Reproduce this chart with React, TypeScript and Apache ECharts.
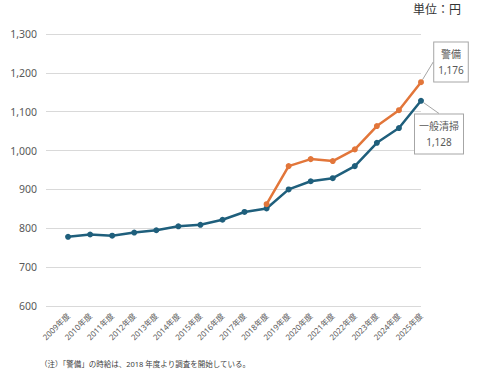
import React, { useEffect, useRef } from "react";
import * as echarts from "echarts";

const years = [
  "2009年度", "2010年度", "2011年度", "2012年度", "2013年度", "2014年度",
  "2015年度", "2016年度", "2017年度", "2018年度", "2019年度", "2020年度",
  "2021年度", "2022年度", "2023年度", "2024年度", "2025年度",
];
const cleaning = [778, 784, 781, 789, 795, 805, 809, 822, 842, 851, 900, 921, 929, 960, 1020, 1058, 1128];
const security = [null, null, null, null, null, null, null, null, null, 862, 960, 978, 973, 1003, 1063, 1104, 1176];
const cleaningName = "一般清掃";
const securityName = "警備";
const yTicks = { min: 600, max: 1300, interval: 100 };
const unitText = "単位：円";
const noteText = "（注）「警備」の時給は、2018 年度より調査を開始している。";

const FONT = "'Noto Sans', 'Noto Sans CJK JP', sans-serif";

function fmt(v: number) {
  return v.toLocaleString("en-US");
}

export default function App() {
  const ref = useRef<HTMLDivElement>(null);
  useEffect(() => {
    if (!ref.current) return;
    const chart = echarts.init(ref.current, null, { renderer: "svg" });
    const last = years.length - 1;
    const mkData = (arr: (number | null)[]) =>
      [null, ...arr].map((v, i) =>
        i === last + 1
          ? { value: v, label: { show: true } }
          : v === null ? "-" : v
      );
    const labelStyle = {
      show: false,
      formatter: (p: any) => `${p.seriesName}\n${fmt(p.value)}`,
      fontFamily: FONT,
      fontSize: 10,
      color: "#595959",
      backgroundColor: "#ffffff",
      borderColor: "#a6a6a6",
      borderWidth: 1,
      padding: [4, 4, 3, 4],
      lineHeight: 16,
      align: "center",
    };
    chart.setOption({
      animation: false,
      textStyle: { fontFamily: FONT },
      grid: { left: 46, right: 56, top: 34, bottom: 74, containLabel: false },
      graphic: [
        {
          type: "text",
          x: 413,
          y: 3,
          style: { text: unitText, fontSize: 12, fill: "#333333", fontFamily: FONT, verticalAlign: "top" },
        },
        {
          type: "text",
          x: 40,
          y: 364,
          style: { text: noteText, fontSize: 7.5, fill: "#404040", fontFamily: FONT, verticalAlign: "middle" },
        },
      ],
      xAxis: {
        type: "category",
        boundaryGap: false,
        data: ["", ...years],
        axisLine: { show: false },
        axisTick: { show: false },
        axisLabel: {
          interval: 0,
          rotate: 45,
          fontSize: 8,
          color: "#595959",
          margin: 8,
          fontFamily: FONT,
        },
        splitLine: { show: false },
      },
      yAxis: {
        type: "value",
        min: yTicks.min,
        max: yTicks.max,
        interval: yTicks.interval,
        axisLine: { show: false },
        axisTick: { show: false },
        axisLabel: {
          formatter: (v: number) => fmt(v),
          fontSize: 10.5,
          color: "#595959",
          margin: 9,
          fontFamily: FONT,
        },
        splitLine: { lineStyle: { color: "#d9d9d9", width: 1 } },
      },
      series: [
        {
          name: cleaningName,
          type: "line",
          data: mkData(cleaning),
          symbol: "circle",
          symbolSize: 6,
          lineStyle: { color: "#1f5f7c", width: 2.5 },
          itemStyle: { color: "#1f5f7c" },
          label: labelStyle,
          labelLine: { show: true, lineStyle: { color: "#a6a6a6", width: 1 } },
          labelLayout: (p: any) =>
            p.dataIndex === last + 1
              ? { x: 439, y: 134, align: "center", verticalAlign: "middle" }
              : {},
          z: 2,
        },
        {
          name: securityName,
          type: "line",
          data: mkData(security),
          symbol: "circle",
          symbolSize: 6,
          lineStyle: { color: "#e2763a", width: 2.5 },
          itemStyle: { color: "#e2763a" },
          label: labelStyle,
          labelLine: { show: true, lineStyle: { color: "#a6a6a6", width: 1 } },
          labelLayout: (p: any) =>
            p.dataIndex === last + 1
              ? { x: 451, y: 62, align: "center", verticalAlign: "middle" }
              : {},
          z: 3,
        },
      ],
    });
    return () => chart.dispose();
  }, []);
  return (
    <div
      ref={ref}
      style={{ position: "absolute", left: 0, top: 0, width: 477, height: 380 }}
    />
  );
}
